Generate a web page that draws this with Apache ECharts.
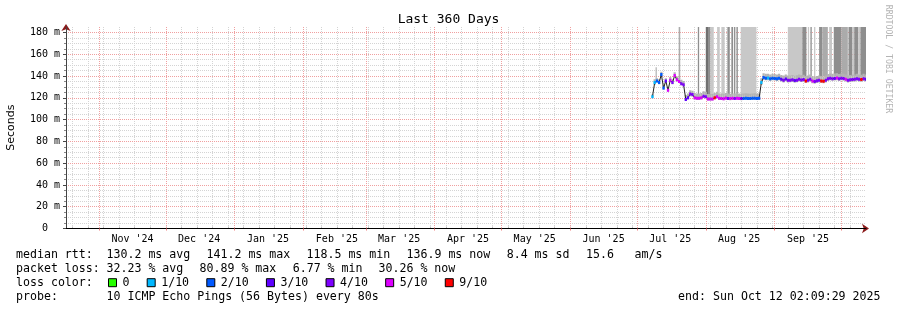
<!DOCTYPE html>
<html><head><meta charset="utf-8">
<script src="https://cdn.jsdelivr.net/npm/echarts@6/dist/echarts.min.js"></script>
<style>html,body{margin:0;padding:0;background:#fff}#c{width:897px;height:310px}</style>
</head><body><div id="c"></div>
<script>
// ---------------- data ----------------
const titleText = 'Last 360 Days';
const rangeStart = '2024-10-17T02:09:29Z';
const rangeEnd = '2025-10-12T02:09:29Z';
const monthStarts = ['2024-11-01','2024-12-01','2025-01-01','2025-02-01','2025-03-01','2025-04-01','2025-05-01','2025-06-01','2025-07-01','2025-08-01','2025-09-01','2025-10-01'];
const monthLabels = ["Nov '24","Dec '24","Jan '25","Feb '25","Mar '25","Apr '25","May '25","Jun '25","Jul '25","Aug '25","Sep '25"];
const weekStarts = ['2024-10-20','2024-10-27','2024-11-03','2024-11-10','2024-11-17','2024-11-24','2024-12-01','2024-12-08','2024-12-15','2024-12-22','2024-12-29',
  '2025-01-05','2025-01-12','2025-01-19','2025-01-26','2025-02-02','2025-02-09','2025-02-16','2025-02-23','2025-03-02','2025-03-09','2025-03-16','2025-03-23','2025-03-30',
  '2025-04-06','2025-04-13','2025-04-20','2025-04-27','2025-05-04','2025-05-11','2025-05-18','2025-05-25','2025-06-01','2025-06-08','2025-06-15','2025-06-22','2025-06-29',
  '2025-07-06','2025-07-13','2025-07-20','2025-07-27','2025-08-03','2025-08-10','2025-08-17','2025-08-24','2025-08-31','2025-09-07','2025-09-14','2025-09-21','2025-09-28','2025-10-05'];
const yMaxMs = 185;
const yTicks = [0,20,40,60,80,100,120,140,160,180];
const yMinorTicks = [5,10,15,25,30,35,45,50,55,65,70,75,85,90,95,105,110,115,125,130,135,145,150,155,165,170,175];

const sampleFirst = '2025-07-08T00:00:00Z';
const sampleStepHours = 24;
const medianMs = [121,134,135.5,134,141.5,129,135.5,127,136,134,140.5,136.5,135,133,132,
  118.5,120,123.5,123,120,119.5,119.5,120,121.5,121,119,118.8,119,120,121,119.5,119.4,119.2,119.8,119.4,119.3,119.5,119.4,119.6,119.4,
  119.3,119.4,119.6,119.4,119.3,119.5,119.6,119.4,119.5,
  134,138.7,138,138.2,137.5,138,137.8,137.4,138,137,136,137.3,136,136.2,136.6,135.8,136.2,137,136.4,136.8,
  135.5,136,137,135.4,135,135.6,136,135.5,135.3,136,137.4,138,137.6,137.8,138.1,137.4,138,137.7,137,136,
  136.5,136.8,137,137.6,137,136.8,137.5,137];
const lossTenths = [1,1,2,2,2,2,3,5,5,4,5,5,5,4,4,
  3,3,4,4,5,5,5,5,4,4,5,5,5,9,5,5,5,5,5,4,5,5,4,5,5,
  3,2,2,2,2,2,2,2,2,
  1,2,2,1,2,2,2,2,2,3,4,3,4,4,4,3,4,4,4,4,
  9,4,4,5,4,4,4,9,9,4,4,4,4,3,5,4,4,4,5,4,
  4,4,4,4,4,9,4,3];
const smokeLowMs = [120,132,134,132.5,139.5,127.5,134,125.5,134.5,132.5,139,135,134,131.5,130.5,
  117.5,118.5,121.5,121,118.5,118,118,118.5,120,119.5,117.5,117.5,117.5,118.5,119.5,118,118,117.8,118.3,118,117.8,118,118,118.2,118,
  117.8,118,118.2,118,117.9,118,118.2,118,118,
  132,136.5,136,136.2,135.5,136,135.8,135.5,136,135,134,135.2,134,134.2,134.6,133.8,134.2,135,134.4,134.8,
  133.5,134,135,133.4,133,133.6,134,133.5,133.3,134,135.4,136,135.6,135.8,136.1,135.4,136,135.7,135,134,
  134.5,134.8,135,135.6,135,134.8,135.5,135];
const smokeHighMs = [123,137,138,137,144,132,138,130,139,137,143.5,139.5,138.5,136.5,135.5,
  122.5,124,127,126.5,124.5,124,124,124.5,126,125.5,123.5,123.5,123.5,124.5,125.5,124,124,123.7,124.3,124,123.8,124,124,124.1,124,
  123.8,123.9,124.1,123.9,123.8,124,124.1,123.9,124,
  138,142.5,142,142,141.5,142,141.8,141.4,142,141,140.5,141.5,140.5,140.5,141,140.3,140.6,141.5,141,141.2,
  140,140.5,141.5,140,139.5,140,140.5,140,139.8,140.5,141.8,142.4,142,142.2,142.5,141.8,142.4,142,141.4,140.5,
  141,141.2,141.4,142,141.4,141.2,142,141.5];
// tall smoke (pings far above the median), depth 1 = few pings ... 4 = many pings
const spikeFrom = ['2025-07-09T10:00Z','2025-07-19T19:00Z','2025-07-28T10:00Z','2025-08-01T00:00Z','2025-08-02T00:00Z','2025-08-03T02:00Z','2025-08-06T02:00Z',
  '2025-08-08T00:00Z','2025-08-10T17:00Z','2025-08-12T12:00Z','2025-08-13T17:00Z','2025-08-14T19:00Z','2025-08-16T17:00Z',
  '2025-09-06T22:00Z','2025-09-13T10:00Z','2025-09-15T22:00Z','2025-09-17T00:00Z','2025-09-18T17:00Z','2025-09-21T00:00Z','2025-09-22T10:00Z',
  '2025-09-25T12:00Z','2025-09-27T14:00Z','2025-10-01T00:00Z','2025-10-04T05:00Z','2025-10-06T00:00Z','2025-10-06T19:00Z','2025-10-08T14:00Z','2025-10-09T14:00Z'];
const spikeTo = ['2025-07-09T22:00Z','2025-07-20T12:00Z','2025-07-29T00:00Z','2025-08-02T00:00Z','2025-08-03T02:00Z','2025-08-04T14:00Z','2025-08-07T07:00Z',
  '2025-08-09T12:00Z','2025-08-11T19:00Z','2025-08-13T07:00Z','2025-08-14T07:00Z','2025-08-15T10:00Z','2025-08-23T19:00Z',
  '2025-09-13T10:00Z','2025-09-15T07:00Z','2025-09-16T12:00Z','2025-09-17T19:00Z','2025-09-19T07:00Z','2025-09-22T10:00Z','2025-09-24T22:00Z',
  '2025-09-26T19:00Z','2025-10-01T00:00Z','2025-10-03T22:00Z','2025-10-06T00:00Z','2025-10-06T19:00Z','2025-10-08T14:00Z','2025-10-09T14:00Z','2025-10-12T02:09Z'];
const spikeLowMs = [136,137,123,123,122,122,122,122,122,122,122,122,122,140,140,140,140,140,140,140,140,140,140,140,140,140,140,140];
const spikeHighMs = [148,185,185,185,185,185,185,185,185,185,185,185,185,185,185,185,185,185,185,185,185,185,185,185,185,185,185,185];
const spikeDepth = [2,2,3,4,3,1,1,1,3,3,3,3,1,1,3,1,2,1,3,2,1,3,2,3,1,3,1,3];

const lossLevels = [0,1,2,3,4,5,9];
const lossNames = ['0','1/10','2/10','3/10','4/10','5/10','9/10'];
const lossColors = ['#26ff00','#00b8ff','#0059ff','#5e00ff','#7e00ff','#dd00ff','#ff0000'];

const statLine1 = [['median rtt:',16],['130.2 ms avg',106.5],['141.2 ms max',206.5],['118.5 ms min',306.5],['136.9 ms now',406.5],['8.4 ms sd',506.7],['15.6',586],['am/s',634.5]];
const statLine2 = [['packet loss:',16],['32.23 % avg',106.5],['80.89 % max',199.5],['6.77 % min',292.7],['30.26 % now',378.5]];
const probeText = '10 ICMP Echo Pings (56 Bytes) every 80s';
const endText = 'end: Sun Oct 12 02:09:29 2025';

// ---------------- chart ----------------
const MONO = '"DejaVu Sans Mono", monospace';
const DAY = 86400000;
const t0 = Date.parse(sampleFirst);
const stepMs = sampleStepHours * 3600000;
const sampleTimes = medianMs.map((_, i) => t0 + i * stepMs);
const monthTimes = monthStarts.map(s => Date.parse(s + 'T00:00:00Z'));
const labelTimes = monthLabels.map((_, i) => monthTimes[i] + 15 * DAY);
const weekTimes = weekStarts.map(s => Date.parse(s + 'T00:00:00Z'));
const depthColors = ['#c8c8c8', '#ababab', '#8e8e8e', '#707070'];
const xMin = Date.parse(rangeStart), xMax = Date.parse(rangeEnd);

const chart = echarts.init(document.getElementById('c'), null, {renderer: 'canvas'});

const lossSeries = lossLevels.map((lvl, k) => ({
  name: lossNames[k], type: 'custom', xAxisIndex: 0, yAxisIndex: 0, z: 6, clip: true,
  itemStyle: {color: lossColors[k]},
  encode: {x: 0, y: 1},
  data: sampleTimes.map((t, i) => lossTenths[i] === lvl ? [t, medianMs[i]] : null).filter(Boolean),
  renderItem: (params, api) => {
    const a = api.coord([api.value(0) - stepMs / 2, api.value(1)]);
    const b = api.coord([api.value(0) + stepMs / 2, api.value(1)]);
    return {type: 'rect', shape: {x: a[0], y: a[1] - 1.5, width: b[0] - a[0], height: 3}, style: {fill: lossColors[k]}};
  }
}));

const textEls = [];
function addText(t, x, y, align) {
  textEls.push({type: 'text', x: x, y: y, style: {text: t, font: '11.6px ' + MONO, fill: '#000', align: align || 'left', verticalAlign: 'middle'}, silent: true});
}
statLine1.forEach(s => addText(s[0], s[1], 254.9));
statLine2.forEach(s => addText(s[0], s[1], 268.8));
addText('loss color:', 16, 282.7);
addText('probe:', 16, 296.6);
addText(probeText, 106.5, 296.6);
addText(endText, 880.5, 296.6, 'right');
textEls.push({type: 'text', x: 888.5, y: 59, rotation: -Math.PI / 2,
  style: {text: 'RRDTOOL / TOBI OETIKER', font: '8.2px ' + MONO, fill: '#b4b4b4', align: 'center', verticalAlign: 'middle'}, silent: true});

function monthLabelFor(v) {
  let k = 0, d = Infinity;
  labelTimes.forEach((t, i) => { if (Math.abs(t - v) < d) { d = Math.abs(t - v); k = i; } });
  return monthLabels[k];
}

const option = {
  animation: false,
  backgroundColor: '#fff',
  title: {text: titleText, left: 'center', top: 13, padding: 0,
    textStyle: {fontFamily: MONO, fontSize: 13, fontWeight: 'normal', color: '#000'}},
  grid: {left: 66, top: 27, width: 800, height: 201.5, outerBoundsMode: 'none', containLabel: false},
  legend: {data: lossNames, left: 108, top: 276.7, padding: 0, itemWidth: 8, itemHeight: 8, itemGap: 17.2, icon: 'rect',
    selectedMode: false, itemStyle: {borderColor: '#000', borderWidth: 1},
    textStyle: {fontFamily: MONO, fontSize: 11.6, color: '#000', padding: [0, 0, 0, 1]}},
  xAxis: [
    {type: 'value', min: xMin, max: xMax, z: 2, scale: true,
      axisLine: {show: true, lineStyle: {color: '#000', width: 1}},
      axisTick: {show: true, customValues: monthTimes, length: 2, lineStyle: {color: '#f08080'}},
      axisLabel: {show: true, customValues: labelTimes, margin: 6, fontFamily: MONO, fontSize: 10, color: '#000',
        formatter: v => monthLabelFor(v)},
      splitLine: {show: true, lineStyle: {color: '#f0a0a0', type: [1, 1], width: 1}}},
    {type: 'value', min: xMin, max: xMax, z: 1, gridIndex: 0, scale: true,
      axisLine: {show: false},
      axisTick: {show: true, customValues: weekTimes, length: 2, lineStyle: {color: '#bbb'}},
      axisLabel: {show: false},
      splitLine: {show: true, lineStyle: {color: '#d4d4d4', type: [1, 1], width: 1}}},
    {type: 'value', min: xMin, max: xMax, z: 0, gridIndex: 0, scale: true,
      axisLine: {show: true, symbol: ['none', 'arrow'], symbolSize: [7, 7], symbolOffset: [0, 3], lineStyle: {color: '#8b1a1a'}},
      axisTick: {show: false}, axisLabel: {show: false}, splitLine: {show: false}}
  ],
  yAxis: [
    {type: 'value', min: 0, max: yMaxMs, z: 2, position: 'left',
      name: 'Seconds', nameLocation: 'middle', nameGap: 49, nameRotate: 90,
      nameTextStyle: {fontFamily: '"DejaVu Sans", sans-serif', fontSize: 11, color: '#000'},
      axisLine: {show: true, lineStyle: {color: '#444'}},
      axisTick: {show: true, customValues: yTicks, length: 3, lineStyle: {color: '#444'}},
      axisLabel: {show: true, customValues: yTicks, margin: 6, fontFamily: MONO, fontSize: 10, color: '#000',
        formatter: v => v === 0 ? '0  ' : v + ' m'},
      splitLine: {show: true, lineStyle: {color: '#f0a0a0', type: [1, 1], width: 1}}},
    {type: 'value', min: 0, max: yMaxMs, z: 1, position: 'left', offset: 0,
      axisLine: {show: false},
      axisTick: {show: true, customValues: yMinorTicks, length: 2, lineStyle: {color: '#888'}},
      axisLabel: {show: false},
      splitLine: {show: true, lineStyle: {color: '#d4d4d4', type: [1, 1], width: 1}}},
    {type: 'value', min: 0, max: yMaxMs, z: 0, position: 'left', offset: 0,
      axisLine: {show: true, symbol: ['none', 'arrow'], symbolSize: [7, 7], symbolOffset: [0, 3], lineStyle: {color: '#8b1a1a'}},
      axisTick: {show: false}, axisLabel: {show: false}, splitLine: {show: false}}
  ],
  series: [
    {name: 'smoke-high', type: 'custom', xAxisIndex: 0, yAxisIndex: 0, z: 3, clip: true, encode: {x: [0, 1], y: [2, 3]},
      data: spikeFrom.map((f, i) => [Date.parse(f), Date.parse(spikeTo[i]), spikeLowMs[i], spikeHighMs[i], spikeDepth[i]]),
      renderItem: (params, api) => {
        const a = api.coord([api.value(0), api.value(3)]);
        const b = api.coord([api.value(1), api.value(2)]);
        return {type: 'rect', shape: {x: a[0], y: a[1], width: b[0] - a[0], height: b[1] - a[1]}, style: {fill: depthColors[api.value(4) - 1]}};
      }},
    {name: 'smoke', type: 'custom', xAxisIndex: 0, yAxisIndex: 0, z: 4, clip: true, encode: {x: 0, y: [1, 2]},
      data: sampleTimes.map((t, i) => [t, smokeLowMs[i], smokeHighMs[i]]),
      renderItem: (params, api) => {
        const a = api.coord([api.value(0) - stepMs / 2, api.value(2)]);
        const b = api.coord([api.value(0) + stepMs / 2, api.value(1)]);
        return {type: 'rect', shape: {x: a[0], y: a[1], width: b[0] - a[0], height: b[1] - a[1]}, style: {fill: '#b4b4b4'}};
      }},
    {name: 'median', type: 'line', xAxisIndex: 0, yAxisIndex: 0, z: 5, symbol: 'none', silent: true,
      lineStyle: {color: '#202020', width: 1},
      data: sampleTimes.map((t, i) => [t, medianMs[i]])}
  ].concat(lossSeries),
  graphic: {elements: textEls}
};
chart.setOption(option);
</script>
</body></html>
